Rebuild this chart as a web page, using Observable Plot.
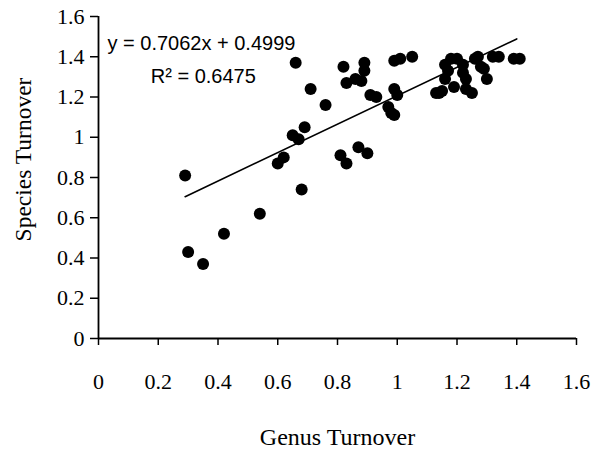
<!DOCTYPE html>
<html>
<head>
<meta charset="utf-8">
<script src="https://cdn.jsdelivr.net/npm/d3@7"></script>
<script src="https://cdn.jsdelivr.net/npm/@observablehq/plot@0.6"></script>
<style>
  html, body { margin: 0; padding: 0; background: #fff; }
  #chart svg { display: block; }
</style>
</head>
<body>
<div id="chart"></div>
<script>
// Genus turnover (x) vs species turnover (y)
const genus = [
  0.29, 0.30, 0.35, 0.42, 0.54, 0.60, 0.62, 0.65, 0.67, 0.69,
  0.66, 0.68, 0.71, 0.76, 0.81, 0.83, 0.87, 0.90, 0.82, 0.83,
  0.86, 0.88, 0.89, 0.89, 0.91, 0.93, 0.97, 0.98, 0.99, 0.99,
  1.01, 1.05, 0.99, 1.00, 1.13, 1.15, 1.16, 1.16, 1.17, 1.18,
  1.19, 1.20, 1.22, 1.22, 1.23, 1.23, 1.25, 1.26, 1.27, 1.28,
  1.29, 1.30, 1.32, 1.34, 1.39, 1.41, 1.14
];
const species = [
  0.81, 0.43, 0.37, 0.52, 0.62, 0.87, 0.90, 1.01, 0.99, 1.05,
  1.37, 0.74, 1.24, 1.16, 0.91, 0.87, 0.95, 0.92, 1.35, 1.27,
  1.29, 1.28, 1.37, 1.33, 1.21, 1.20, 1.15, 1.12, 1.11, 1.38,
  1.39, 1.40, 1.24, 1.21, 1.22, 1.23, 1.29, 1.36, 1.33, 1.39,
  1.25, 1.39, 1.36, 1.32, 1.29, 1.24, 1.22, 1.39, 1.40, 1.35,
  1.34, 1.29, 1.40, 1.40, 1.39, 1.39, 1.22
];

const slope = 0.7062;
const intercept = 0.4999;
const fitX = [0.29, 1.40];
const equationText = "y = 0.7062x + 0.4999";
const r2Text = "R² = 0.6475";
const xTitle = "Genus Turnover";
const yTitle = "Species Turnover";

const xTicks = [0, 0.2, 0.4, 0.6, 0.8, 1, 1.2, 1.4, 1.6];
const xTickLabels = ["0", "0.2", "0.4", "0.6", "0.8", "1", "1.2", "1.4", "1.6"];
const yTicks = [0, 0.2, 0.4, 0.6, 0.8, 1, 1.2, 1.4, 1.6];
const yTickLabels = ["0", "0.2", "0.4", "0.6", "0.8", "1", "1.2", "1.4", "1.6"];

const points = genus.map((g, i) => ({ genus: g, species: species[i] }));
const fit = fitX.map(x => ({ x, y: slope * x + intercept }));

const serif = "'Liberation Serif', 'Times New Roman', serif";
const sans = "'Liberation Sans', Arial, sans-serif";

const chart = Plot.plot({
  width: 600,
  height: 456,
  marginLeft: 98,
  marginRight: 24,
  marginTop: 16,
  marginBottom: 118,
  style: { fontFamily: serif, background: "#fff", color: "#000" },
  x: { domain: [0, 1.6] },
  y: { domain: [0, 1.6] },
  marks: [
    Plot.axisX({
      ticks: xTicks,
      tickFormat: d => xTickLabels[xTicks.indexOf(d)],
      tickSize: 7,
      tickPadding: 28,
      fontSize: 22,
      stroke: "#000",
      strokeWidth: 1.5,
      label: null
    }),
    Plot.axisY({
      ticks: yTicks,
      tickFormat: d => yTickLabels[yTicks.indexOf(d)],
      tickSize: 8,
      tickPadding: 6,
      fontSize: 22,
      stroke: "#000",
      strokeWidth: 1.5,
      label: null
    }),
    Plot.ruleY([0], { stroke: "#000", strokeWidth: 1.8 }),
    Plot.ruleX([0], { stroke: "#000", strokeWidth: 1.8 }),
    Plot.line(fit, { x: "x", y: "y", stroke: "#000", strokeWidth: 1.6 }),
    Plot.dot(points, { x: "genus", y: "species", r: 6, fill: "#000", stroke: "none" }),
    Plot.text([equationText], {
      x: 0.03, y: 1.466, text: d => d, textAnchor: "start",
      fontFamily: sans, fontSize: 20, fill: "#000"
    }),
    Plot.text([r2Text], {
      x: 0.175, y: 1.30, text: d => d, textAnchor: "start",
      fontFamily: sans, fontSize: 20, fill: "#000"
    }),
    Plot.text([xTitle], {
      frameAnchor: "bottom", textAnchor: "middle", lineAnchor: "middle",
      dy: 99, text: d => d,
      fontFamily: serif, fontSize: 24, fill: "#000"
    }),
    Plot.text([yTitle], {
      frameAnchor: "left", textAnchor: "middle", lineAnchor: "middle",
      dx: -75, dy: -18, rotate: -90, text: d => d,
      fontFamily: serif, fontSize: 23.5, fill: "#000"
    })
  ]
});

document.getElementById("chart").appendChild(chart);
</script>
</body>
</html>
